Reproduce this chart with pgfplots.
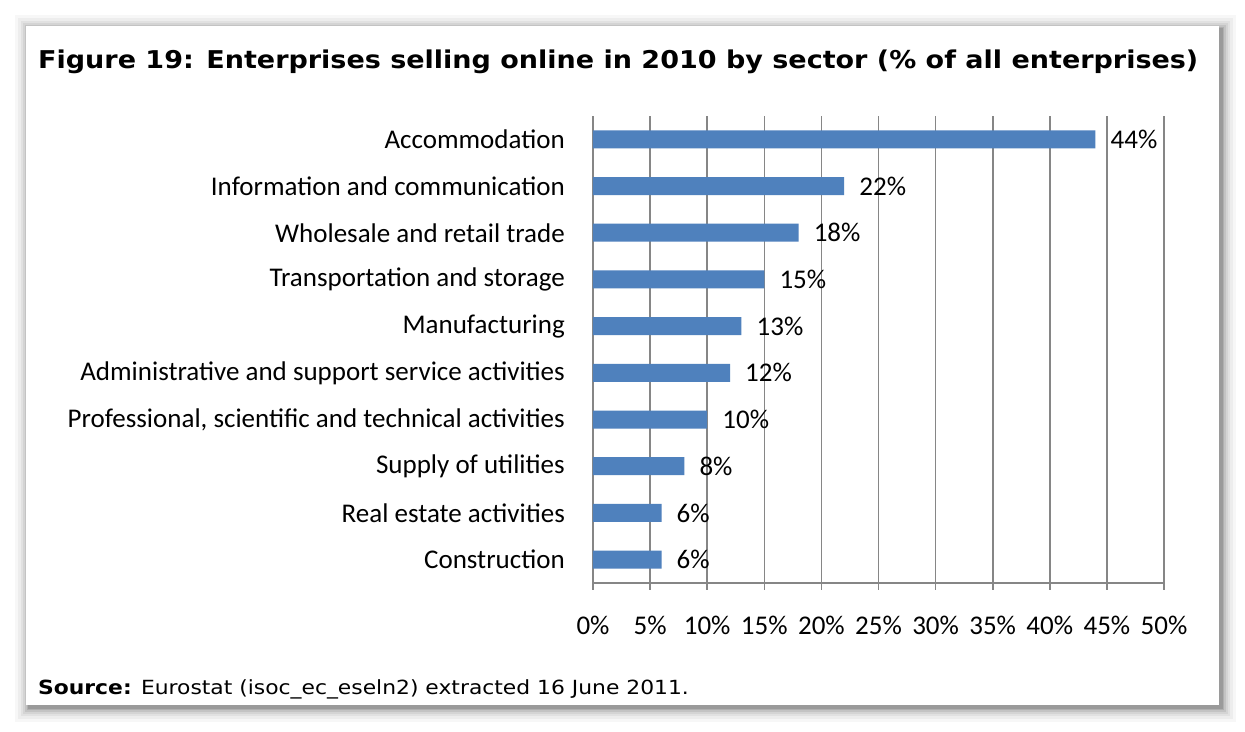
\documentclass[border=0pt]{standalone}
\usepackage{pgfplots}
\pgfplotsset{compat=1.18}
\usepackage{fontspec}
\setmainfont{Carlito}
\newfontfamily\titlefont{DejaVu Sans}
\definecolor{barblue}{RGB}{79,129,189}
\definecolor{gridgray}{RGB}{134,134,134}
\begin{document}
\begin{tikzpicture}
\path[use as bounding box] (0pt,0pt) rectangle (1245pt,731pt);
% shadow
\foreach \s/\o in {14/0.03,11/0.04,8/0.05,6/0.06,4/0.08,2/0.10,1/0.12}{
  \fill[black,opacity=\o] (26pt-\s pt+3pt,26pt-\s pt-3pt) rectangle (1219pt+\s pt+3pt,705pt+\s pt-3pt);
}
\fill[white] (26pt,26pt) rectangle (1219pt,705pt);
\node[anchor=base west,inner sep=0,font=\titlefont\bfseries\fontsize{24.5}{28}\selectfont] at (38pt,662pt) {\scalebox{1.102}[1]{Figure 19: Enterprises selling online in 2010 by sector (\% of all enterprises)}};
\node[anchor=base west,inner sep=0,font=\titlefont\fontsize{19.5}{22}\selectfont] at (38pt,36pt) {\scalebox{1.12}[1]{\textbf{Source:} Eurostat (isoc\_ec\_eseln2) extracted 16 June 2011.}};
\begin{axis}[
  at={(593pt,148pt)}, anchor=south west,
  scale only axis, width=571pt, height=467pt,
  xbar, bar width=18pt,
  xmin=0, xmax=50, ymin=-0.5, ymax=9.5,
  axis x line*=bottom, axis y line*=left,
  axis line style={gridgray, line width=1.6pt, -},
  xtick={0,5,...,50},
  xticklabel={\pgfmathprintnumber{\tick}\%},
  /pgf/number format/assume math mode=true,
  x tick label style={font=\fontsize{27}{30}\selectfont, anchor=base, inner sep=0, yshift=-45pt},
  xmajorgrids, major grid style={gridgray, line width=1.6pt},
  tick align=outside,
  major tick length=7pt,
  minor tick length=7pt,
  tick style={gridgray, line width=1.6pt},
  ytick={0,...,9},
  ytick style={draw=none},
  minor ytick={-0.5,0.5,...,9.5},
  minor tick style={gridgray, line width=1.6pt},
  yticklabels={Construction\hspace{5pt},Real estate activities\hspace{7pt},Supply of utilities\hspace{1pt},Professional{,} scientific and technical activities,Administrative and support service activities,Manufacturing\hspace{5pt},Transportation and storage\hspace{7pt},Wholesale and retail trade,Information and communication\hspace{8pt},Accommodation\hspace{5pt}},
  y tick label style={font=\fontsize{27}{30}\selectfont, anchor=east, inner sep=0, xshift=-21pt},
  point meta=x,
  nodes near coords={\pgfmathprintnumber{\pgfplotspointmeta}\%},
  every node near coord/.append style={font=\fontsize{27}{30}\selectfont, anchor=west, inner sep=0, xshift=15pt, black},
  clip=false,
]
\addplot[fill=barblue, draw=none] coordinates {
(6,0) (6,1) (8,2) (10,3) (12,4) (13,5) (15,6) (18,7) (22,8) (44,9)};
\end{axis}
\end{tikzpicture}
\end{document}
